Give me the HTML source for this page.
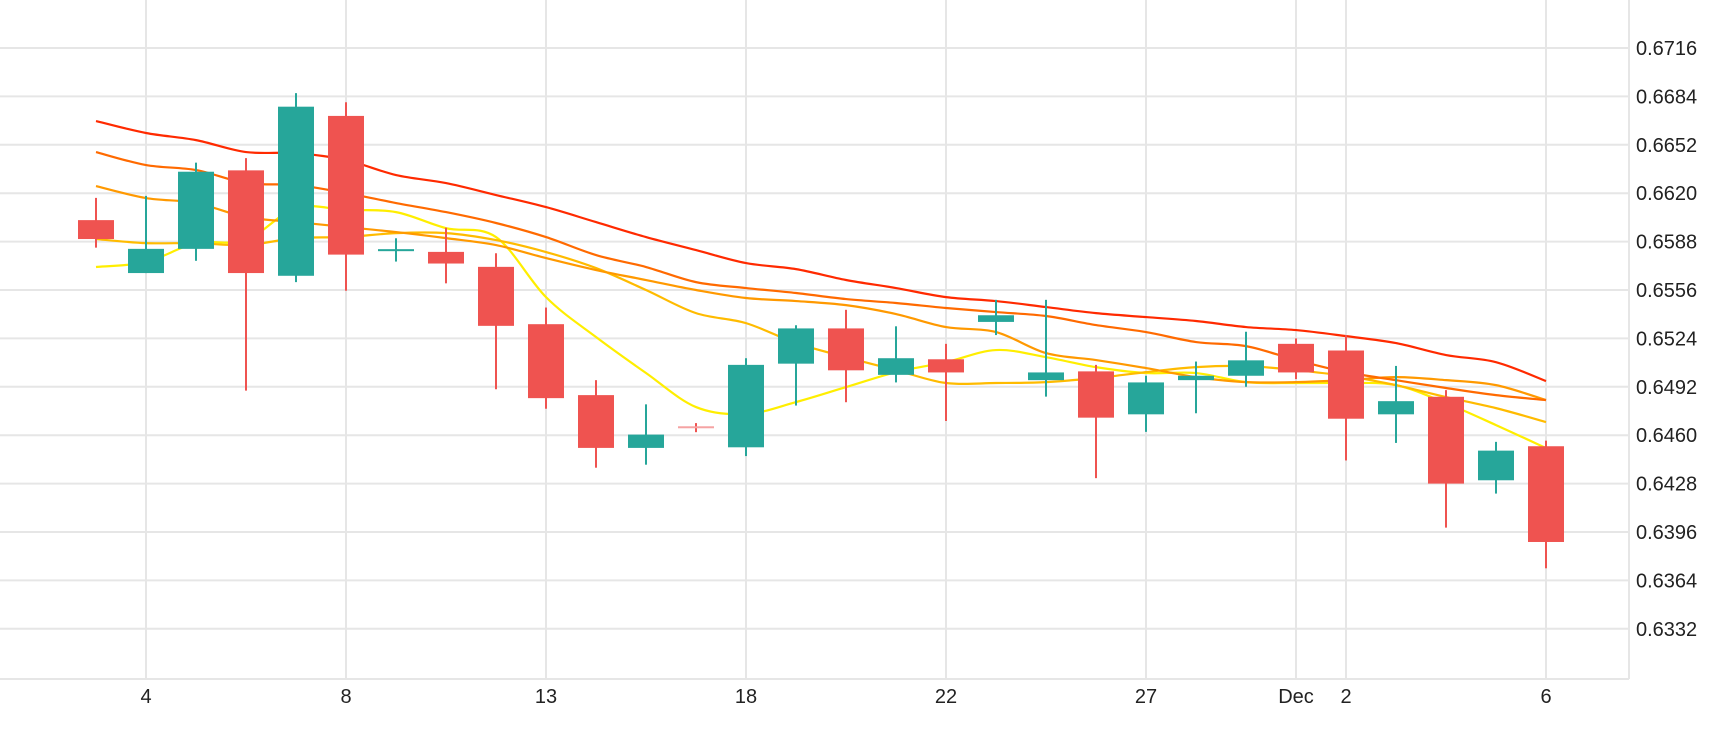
<!DOCTYPE html>
<html><head><meta charset="utf-8"><style>
html,body{margin:0;padding:0;background:#fff;}
svg{display:block;font-family:"Liberation Sans",sans-serif;}
</style></head><body>
<svg id="chart" width="1730" height="730" viewBox="0 0 1730 730" xmlns="http://www.w3.org/2000/svg">
<g id="grid"></g>
<g id="lines"></g>
<g id="candles"></g>
<g id="axes"></g>
</svg>
<script>
const opens  = [0.66022,0.65672,0.65832,0.66351,0.65654,0.66711,0.65820,0.65812,0.65713,0.65334,0.64865,0.64516,0.64659,0.64520,0.65073,0.65306,0.64999,0.65102,0.65349,0.64964,0.65022,0.64738,0.64964,0.64993,0.65204,0.65160,0.64738,0.64854,0.64302,0.64527];
const closes = [0.65897,0.65832,0.66342,0.65672,0.66772,0.65794,0.65830,0.65735,0.65323,0.64845,0.64516,0.64604,0.64655,0.65065,0.65306,0.65029,0.65109,0.65015,0.65393,0.65015,0.64716,0.64949,0.64993,0.65095,0.65015,0.64709,0.64825,0.64280,0.64498,0.63894];
const highs  = [0.66169,0.66182,0.66402,0.66432,0.66862,0.66801,0.65902,0.65972,0.65803,0.65444,0.64964,0.64804,0.64680,0.65109,0.65327,0.65429,0.65320,0.65204,0.65495,0.65495,0.65065,0.64993,0.65087,0.65284,0.65240,0.65262,0.65058,0.64898,0.64556,0.64564];
const lows   = [0.65840,0.65672,0.65753,0.64895,0.65612,0.65555,0.65748,0.65604,0.64904,0.64775,0.64385,0.64405,0.64620,0.64462,0.64796,0.64818,0.64949,0.64694,0.65262,0.64855,0.64316,0.64622,0.64745,0.64920,0.64971,0.64433,0.64549,0.63989,0.64214,0.63720];
const maRed    = [0.66677,0.66598,0.66551,0.66472,0.66465,0.66419,0.66320,0.66267,0.66188,0.66108,0.66009,0.65910,0.65824,0.65738,0.65698,0.65626,0.65573,0.65513,0.65487,0.65447,0.65407,0.65381,0.65355,0.65315,0.65295,0.65255,0.65209,0.65130,0.65083,0.64958];
const maOrange = [0.66472,0.66386,0.66353,0.66267,0.66254,0.66201,0.66135,0.66075,0.66003,0.65910,0.65791,0.65712,0.65612,0.65573,0.65540,0.65500,0.65474,0.65441,0.65414,0.65388,0.65328,0.65282,0.65216,0.65189,0.65097,0.65017,0.64964,0.64912,0.64865,0.64832];
const maAmber  = [0.66247,0.66168,0.66135,0.66042,0.66009,0.65976,0.65943,0.65903,0.65857,0.65771,0.65692,0.65626,0.65560,0.65507,0.65487,0.65460,0.65401,0.65315,0.65282,0.65143,0.65097,0.65044,0.64984,0.64951,0.64951,0.64964,0.64984,0.64964,0.64931,0.64832];
const maGold   = [0.65897,0.65870,0.65870,0.65857,0.65903,0.65910,0.65936,0.65936,0.65890,0.65811,0.65705,0.65560,0.65407,0.65341,0.65209,0.65116,0.65030,0.64945,0.64945,0.64951,0.64978,0.65017,0.65050,0.65057,0.65030,0.64991,0.64931,0.64852,0.64779,0.64687];
const maYellow = [0.65712,0.65745,0.65870,0.65890,0.66102,0.66089,0.66075,0.65969,0.65910,0.65513,0.65249,0.65011,0.64786,0.64740,0.64819,0.64918,0.65017,0.65083,0.65163,0.65116,0.65050,0.65011,0.65011,0.64951,0.64945,0.64945,0.64931,0.64812,0.64667,0.64515];
const yTicks = [0.6716,0.6684,0.6652,0.6620,0.6588,0.6556,0.6524,0.6492,0.6460,0.6428,0.6396,0.6364,0.6332];
const xTickIdx = [1,5,9,13,17,21,25,29];
const xTickLabels = ["4","8","13","18","22","27","2","6"];
const monthTickIdx = [24];
const monthTickLabels = ["Dec"];

const NS="http://www.w3.org/2000/svg";
const X0=96, STEP=50, RIGHT=1629, BOTTOM=679;
function xs(i){return X0+STEP*i;}
function ys(v){return 48+(0.6716-v)/0.0032*48.4;}
function mk(tag,parent,attrs){const e=document.createElementNS(NS,tag);for(const k in attrs)e.setAttribute(k,attrs[k]);parent.appendChild(e);return e;}
const grid=document.getElementById('grid'), axes=document.getElementById('axes'), lines=document.getElementById('lines'), candles=document.getElementById('candles');

yTicks.forEach(t=>{
  const l=mk('line',grid,{x1:0,x2:RIGHT,y1:ys(t),y2:ys(t),stroke:'#e6e6e6','stroke-width':2});
  
  
  const tx=mk('text',axes,{x:1636,y:ys(t)+7,'font-size':20,fill:'#222'});
  tx.textContent=t.toFixed(4);
  
  
});
xTickIdx.forEach((i,k)=>{
  const l=mk('line',grid,{x1:xs(i),x2:xs(i),y1:0,y2:BOTTOM,stroke:'#e6e6e6','stroke-width':2});
  
  
  const tx=mk('text',axes,{x:xs(i),y:703,'font-size':20,fill:'#222','text-anchor':'middle'});
  tx.textContent=xTickLabels[k];
  
  
});
monthTickIdx.forEach((i,k)=>{
  const l=mk('line',grid,{x1:xs(i),x2:xs(i),y1:0,y2:BOTTOM,stroke:'#e6e6e6','stroke-width':2});
  
  
  const tx=mk('text',axes,{x:xs(i),y:703,'font-size':20,fill:'#222','text-anchor':'middle'});
  tx.textContent=monthTickLabels[k];
  
  
});
const xb=mk('line',axes,{x1:0,x2:RIGHT,y1:BOTTOM,y2:BOTTOM,stroke:'#e6e6e6','stroke-width':2});


const yb=mk('line',axes,{x1:RIGHT,x2:RIGHT,y1:0,y2:BOTTOM,stroke:'#e6e6e6','stroke-width':2});



function smoothPath(vals){
  const p=vals.map((v,i)=>[xs(i),ys(v)]);
  let d='M'+p[0][0]+','+p[0][1];
  for(let i=0;i<p.length-1;i++){
    const p0=p[i-1]||p[i],p1=p[i],p2=p[i+1],p3=p[i+2]||p2;
    const c1x=p1[0]+(p2[0]-p0[0])/6,c1y=p1[1]+(p2[1]-p0[1])/6;
    const c2x=p2[0]-(p3[0]-p1[0])/6,c2y=p2[1]-(p3[1]-p1[1])/6;
    d+=' C'+c1x+','+c1y+' '+c2x+','+c2y+' '+p2[0]+','+p2[1];
  }
  return d;
}
[[maYellow,'#ffee00','ma-yellow'],[maGold,'#ffbb00','ma-gold'],[maAmber,'#ff9900','ma-amber'],[maOrange,'#ff6a00','ma-orange'],[maRed,'#ff2a00','ma-red']].forEach(s=>{
  const p=mk('path',lines,{d:smoothPath(s[0]),fill:'none',stroke:s[1],'stroke-width':2.2});
  
  
});

opens.forEach((o,i)=>{
  const c=closes[i], up=c>=o, doji=Math.abs(c-o)<0.00008;
  const col=doji&&i===12?'#f5a3a3':(up?'#26a69a':'#ef5350');
  const g=mk('g',candles,{});
  
  
  mk('line',g,{x1:xs(i),x2:xs(i),y1:ys(highs[i]),y2:ys(lows[i]),stroke:up?'#26a69a':'#ef5350','stroke-width':2});
  const top=ys(Math.max(o,c)), bot=ys(Math.min(o,c));
  mk('rect',g,{x:xs(i)-18,y:top,width:36,height:Math.max(bot-top,2),fill:col});
});
</script>
</body></html>
